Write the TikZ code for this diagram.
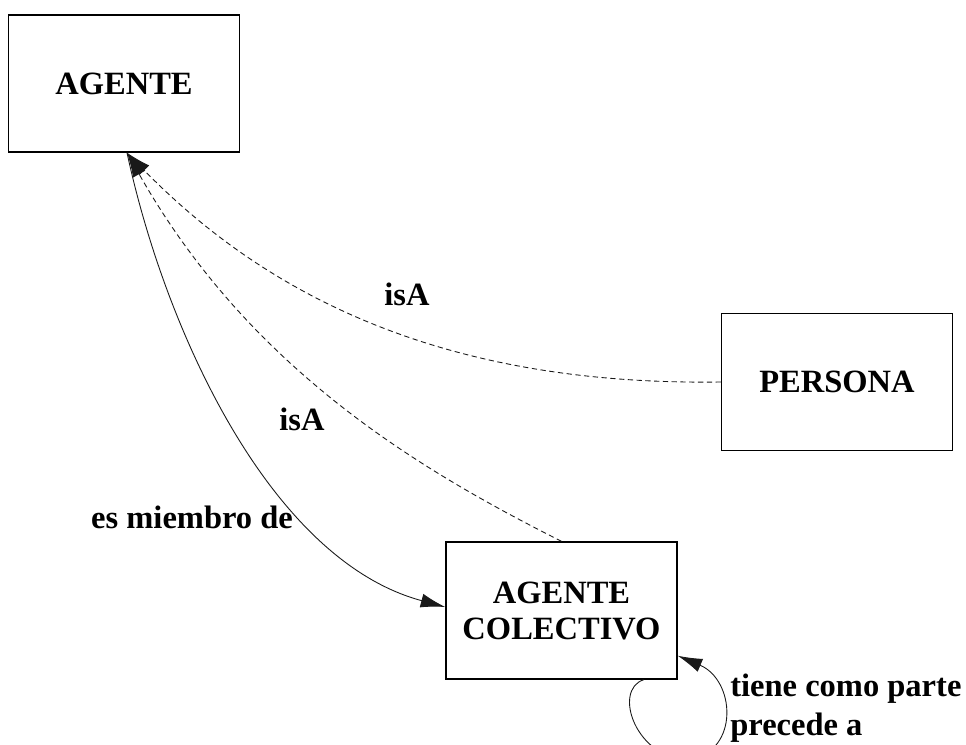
\documentclass[tikz,border=0pt]{standalone}
\usepackage{fontspec}
\setmainfont{Liberation Serif}
\usetikzlibrary{arrows.meta}
\tikzset{
  concept/.style={draw,thick,minimum width=4.62cm,minimum height=2.74cm,align=center,font=\fontsize{18.5}{20.5}\selectfont\bfseries},
  rel/.style={inner sep=0pt,font=\fontsize{18.5}{19.5}\selectfont\bfseries},
  isa/.style={black!90,line width=0.5pt,dash pattern=on 3pt off 2pt,-{Latex[length=14pt,width=8pt]}},
  member/.style={black!90,line width=0.5pt,-{Latex[length=14pt,width=8pt]}}
}
\begin{document}
\begin{tikzpicture}[x=0.02cm,y=-0.02cm]
\useasboundingbox (0,0) rectangle (966,744);
% Concepts
\node[concept] (agente) at (124,83.5) {AGENTE};
\node[concept] (persona) at (837,382) {PERSONA};
\node[concept] (colectivo) at (561.5,610.5) {AGENTE\\COLECTIVO};

% Relations
\coordinate (tip) at ([xshift=0.06cm]agente.south);
\draw[isa] (persona.west) .. controls (500,385) and (300,330) .. (tip);
\draw[isa] (colectivo.north) .. controls (420,470) and (250,370) .. (tip);
\draw[member] (tip) .. controls (165,330) and (270,560) .. ([yshift=0.07cm]colectivo.west);
% self loop
\coordinate (loopbottom) at (690,760);
\draw[member] ([xshift=-0.68cm]colectivo.south east) .. controls (612,690) and (636,760) .. (loopbottom)
  .. controls (740,750) and (735,680) .. ([yshift=0.48cm]colectivo.south east);

% Labels
\node[rel,anchor=base] (isa1) at (407,305) {isA};
\node[rel,anchor=base] (isa2) at (302,430) {isA};
\node[rel,anchor=base] (miembro) at (192,528) {es miembro de};
\node[rel,anchor=west,align=left] (parte) at (730,708) {tiene como parte\\[3pt]precede a};
\end{tikzpicture}
\end{document}
